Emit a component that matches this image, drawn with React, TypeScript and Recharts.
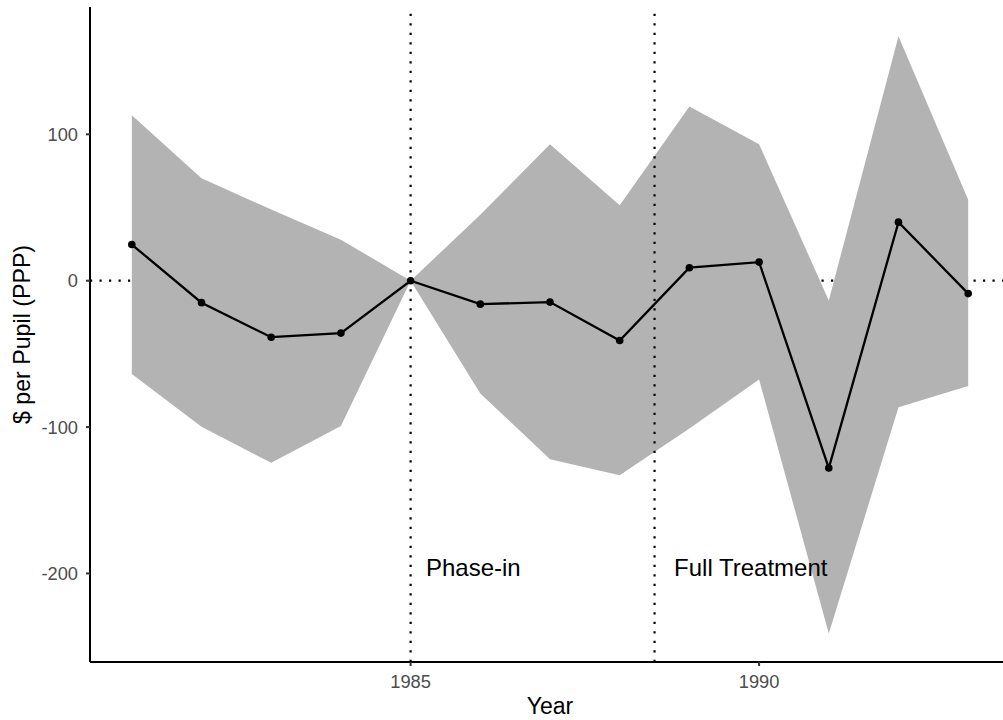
import React from 'react';
import {
  ComposedChart, Area, Line, XAxis, YAxis, ReferenceLine, ReferenceDot,
} from 'recharts';

// event-study estimates with 95% band, $ per pupil
const YEARS = [1981, 1982, 1983, 1984, 1985, 1986, 1987, 1988, 1989, 1990, 1991, 1992, 1993];
const ESTIMATE = [24.7, -15, -38.6, -35.8, 0, -16, -14.6, -40.9, 8.9, 12.7, -128, 40, -8.8];
const LOWER = [-63.7, -99.8, -124.4, -99.3, 0, -77, -122, -132.9, -100.9, -67.5, -241, -86.5, -72];
const UPPER = [113, 70, 48.6, 28, 0, 45, 93.2, 51.6, 119, 93.2, -13.5, 167, 55.3];

const X_TICKS = [1985, 1990];
const Y_TICKS = [-200, -100, 0, 100];
const PERIOD_LINES = [1985, 1988.5];
const PERIOD_LABELS = [
  { x: 1985.22, y: -196, text: 'Phase-in' },
  { x: 1988.78, y: -196, text: 'Full Treatment' },
];

const FONT = '"Liberation Sans", Arial, sans-serif';
const DOTTED = '2.2 7.3';

const rows = YEARS.map((year, i) => ({
  year,
  est: ESTIMATE[i],
  band: [LOWER[i], UPPER[i]],
}));

export default function App() {
  return (
    <div style={{ position: 'absolute', left: 0, top: 0, width: 1003, height: 720, overflow: 'hidden', background: '#fff', fontFamily: FONT }}>
      <ComposedChart width={1010} height={720} data={rows} margin={{ top: 7, right: 0, bottom: 0, left: 0 }}>
        <XAxis
          dataKey="year"
          type="number"
          domain={[1980.4, 1993.6]}
          ticks={X_TICKS}
          allowDataOverflow
          height={58}
          tick={{ fill: '#4D4D4D', fontSize: 18.3, fontFamily: FONT }}
          tickSize={4}
          tickMargin={9}
          tickLine={{ stroke: '#333333', strokeWidth: 2 }}
          axisLine={{ stroke: '#000', strokeWidth: 2 }}
          label={{
            content: ({ viewBox }: any) => (
              <text x={viewBox.x + viewBox.width / 2} y={714} textAnchor="middle" fontSize={23} fontFamily={FONT} fill="#000">
                Year
              </text>
            ),
          }}
        />
        <YAxis
          type="number"
          domain={[-260.5, 187]}
          ticks={Y_TICKS}
          allowDataOverflow
          width={90}
          tick={{ fill: '#4D4D4D', fontSize: 18.3, fontFamily: FONT }}
          tickSize={4}
          tickMargin={8}
          tickLine={{ stroke: '#333333', strokeWidth: 2 }}
          axisLine={{ stroke: '#000', strokeWidth: 2 }}
          label={{
            content: ({ viewBox }: any) => {
              const cy = viewBox.y + viewBox.height / 2;
              return (
                <text x={29.5} y={cy} transform={`rotate(-90, 29.5, ${cy})`} textAnchor="middle" fontSize={23.2} fontFamily={FONT} fill="#000">
                  $ per Pupil (PPP)
                </text>
              );
            },
          }}
        />
        <ReferenceLine y={0} stroke="#000" strokeWidth={2.2} strokeDasharray={DOTTED} zIndex={50} />
        <Area
          dataKey="band"
          type="linear"
          fill="#B3B3B3"
          fillOpacity={1}
          stroke="none"
          isAnimationActive={false}
        />
        {PERIOD_LINES.map(x => (
          <ReferenceLine key={x} x={x} stroke="#000" strokeWidth={2.2} strokeDasharray={DOTTED} zIndex={300} />
        ))}
        <Line
          dataKey="est"
          type="linear"
          stroke="#000"
          strokeWidth={2.3}
          dot={{ r: 3.8, fill: '#000', stroke: 'none' }}
          activeDot={false}
          isAnimationActive={false}
        />
        {PERIOD_LABELS.map(l => (
          <ReferenceDot
            key={l.text}
            x={l.x}
            y={l.y}
            r={0}
            ifOverflow="visible"
            shape={(p: any) => (
              <text x={p.cx} y={p.cy} dominantBaseline="central" fontSize={24} fontFamily={FONT} fill="#000">
                {l.text}
              </text>
            )}
          />
        ))}
      </ComposedChart>
    </div>
  );
}
